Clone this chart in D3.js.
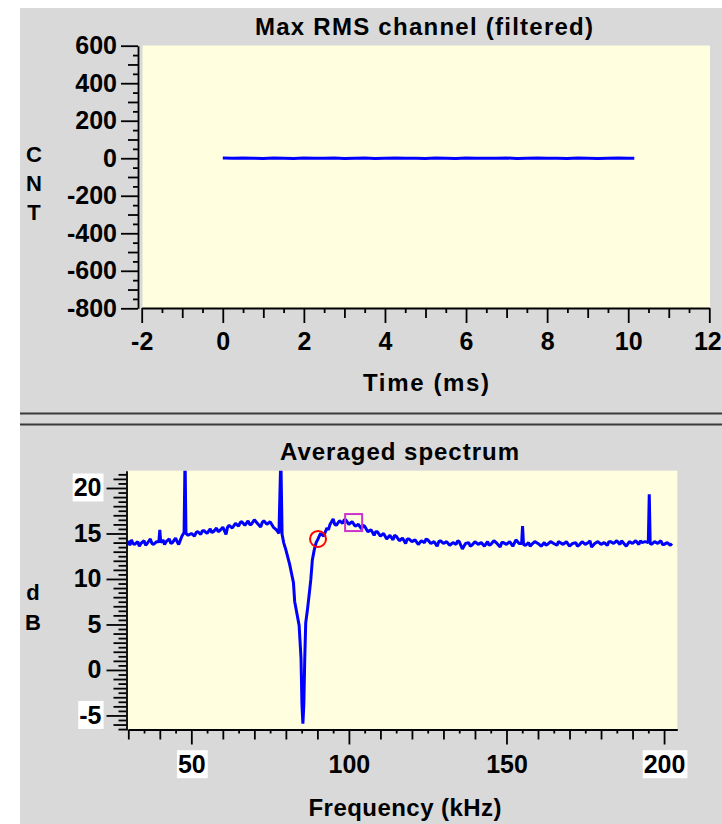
<!DOCTYPE html>
<html>
<head>
<meta charset="utf-8">
<script src="https://cdn.jsdelivr.net/npm/d3@7"></script>
<style>
  html, body { margin: 0; padding: 0; background: #ffffff; }
  svg { display: block; }
  text { font-family: "Liberation Sans", Arial, Helvetica, sans-serif; font-weight: bold; fill: #000; }
</style>
</head>
<body>
<svg id="chart" width="722" height="824"></svg>
<script>
// ---- Max RMS channel (filtered): time trace ----
const timeMs = [0, 0.25, 0.5, 0.75, 1, 1.25, 1.5, 1.75, 2, 2.25, 2.5, 2.75, 3, 3.25, 3.5, 3.75,
  4, 4.25, 4.5, 4.75, 5, 5.25, 5.5, 5.75, 6, 6.25, 6.5, 6.75, 7, 7.25, 7.5, 7.75,
  8, 8.25, 8.5, 8.75, 9, 9.25, 9.5, 9.75, 10, 10.15];
const countValues = [1, 0, 1, 0, -1, 1, 0, -1, 1, 0, 0, 1, -1, 0, 1, -1,
  0, 1, 0, 0, -1, 1, 0, -1, 1, 0, 0, 0, 1, -1, 0, 1,
  0, 0, -1, 1, 0, -1, 0, 1, 0, 0];
const timeTicks = [-2, 0, 2, 4, 6, 8, 10, 12];
const countTicks = [-800, -600, -400, -200, 0, 200, 400, 600];

// ---- Averaged spectrum: [frequency kHz, level dB] ----
const spectrum = [
  [30,14.2],[30.5,13.7],[31,14.3],[31.5,13.9],[32,13.8],[33,14.1],[33.5,13.6],[34,13.9],[35,14.2],[35.5,13.7],[36,13.9],[37,14.4],[37.5,13.9],[38,13.8],
  [39,14.1],[39.7,14.1],[40,15.4],[40.3,14.0],[41,14.3],[41.5,13.8],[42,14.1],[43,14.4],[43.5,13.9],[44,14.0],[45,14.5],[45.5,14.1],[46,13.8],
  [47,14.7],[47.7,15.1],[48.0,23.5],[48.3,15.0],[49,14.8],[50,15.0],[51,14.7],[51.5,15.1],[52,15.2],[53,14.9],[53.5,15.3],[54,15.3],
  [55,15.0],[56,15.5],[56.5,15.1],[57,15.2],[58,15.6],[58.5,15.2],[59,15.3],[60,15.7],[61,14.9],[61.5,15.7],[62,15.9],[63,15.6],[64,16.1],
  [65,15.8],[65.5,16.2],[66,16.3],[67,15.9],[68,16.4],[68.5,16.0],[69,16.0],[70,16.5],[71,16.1],[72,15.7],[72.5,16.2],[73,16.4],[74,16.0],
  [75,16.3],[76,15.7],[77,15.4],[77.8,15.0],[78.4,23.5],[78.8,14.9],[79.3,14.0],[80,13.2],[80.6,12.4],[81.2,11.6],
  [81.8,10.6],[82.4,9.6],[82.8,7.5],[83.5,6.2],[84.2,4.9],[84.8,1.3],[85.1,-3.8],[85.4,-5.9],[85.7,-3.8],[86.0,1.4],
  [86.3,5.2],[86.8,6.5],[87.3,8.0],[87.9,9.9],[88.4,12.1],[89.0,13.2],[89.6,14.0],[90.2,14.4],[91,15.0],[92,14.7],
  [93,15.6],[93.5,15.4],[94,16.0],[95,16.6],[95.5,16.0],[96,15.9],[97,16.4],[98,16.1],[98.5,16.5],[99,16.5],[100,16.0],[101,16.3],[102,15.8],
  [103,16.0],[104,15.5],[104.5,15.9],[105,15.8],[106,15.2],[107,15.4],[108,14.8],[108.5,15.2],[109,15.2],[110,14.7],[111,15.0],[112,14.4],
  [113,14.8],[114,14.3],[114.5,14.8],[115,14.7],[116,14.2],[117,14.5],[118,13.9],[118.5,14.4],[119,14.4],[120,14.1],[121,14.3],[122,13.8],
  [123,14.2],[124,14.0],[124.5,14.4],[125,14.3],[126,13.9],[127,14.1],[128,13.6],[128.5,14.1],[129,14.2],[130,13.9],[131,14.1],[132,13.7],
  [133,14.0],[134,13.8],[134.5,14.2],[135,14.1],[136,13.3],[137,13.9],[138,14.0],[138.5,13.6],[139,13.7],[140,14.1],[141,13.8],[142,14.0],
  [143,13.6],[144,14.1],[144.5,13.7],[145,13.8],[146,14.2],[147,13.9],[148,13.5],[148.5,14.0],[149,14.0],[150,13.8],[151,14.1],[152,13.6],
  [153,14.3],[154,13.9],[154.8,13.9],[155.1,15.8],[155.4,13.8],[156,13.7],[157,14.0],[157.5,13.6],[158,13.8],[159,14.1],[160,13.9],
  [161,13.6],[162,14.0],[162.5,13.7],[163,13.8],[164,14.1],[165,13.9],[166,13.7],[166.5,14.1],[167,14.0],[168,13.8],[169,14.1],[170,13.6],
  [171,13.9],[172,14.0],[172.5,13.6],[173,13.7],[174,14.1],[175,13.8],[176,14.0],[176.5,14.2],[177,13.5],[178,13.9],[179,14.1],[180,13.8],
  [181,14.0],[182,13.7],[182.5,14.1],[183,14.1],[184,13.9],[185,14.2],[186,13.8],[186.5,14.2],[187,14.0],[188,13.6],[189,14.1],[190,13.9],
  [191,14.2],[192,13.8],[192.5,14.2],[193,14.0],[194,14.1],[195.0,14.0],[195.3,19.3],[195.6,13.9],[196,13.8],[197,14.1],[198,13.9],
  [199,14.2],[199.5,13.8],[200,13.8],[201,14.0],[202,13.7],[202.5,13.9]
];
const freqTicks = [50, 100, 150, 200];
const dbTicks = [-5, 0, 5, 10, 15, 20];
const highlightedFreqLabels = [50, 200];
const highlightedDbLabels = [-5, 20];
// cursor markers on the spectrum
const circleMarker = { kHz: 90.2, db: 14.4 };
const squareMarker = { kHz: 101.5, db: 16.2 };

const svg = d3.select("#chart");
const fmt = d => String(d);

// window background and panel separator
svg.append("rect").attr("x", 20).attr("y", 8).attr("width", 702).attr("height", 816).attr("fill", "#d9d9d9");
[413.5, 424.5].forEach(y => {
  svg.append("line").attr("x1", 20).attr("x2", 722).attr("y1", y).attr("y2", y)
    .attr("stroke", "#3a3a3a").attr("stroke-width", 2);
});

// draws one axis as layered tick sets: labelled majors, then unlabelled minors
function layeredAxis(g, make, scale, layers, padding) {
  layers.forEach((layer, i) => {
    const ax = make(scale).tickValues(layer.values).tickSize(layer.size).tickSizeOuter(0)
      .tickPadding(padding);
    ax.tickFormat(i === 0 ? fmt : () => "");
    const sub = g.append("g").call(ax);
    if (i > 0) sub.select(".domain").remove();
    sub.selectAll("line, path").attr("stroke", "#000").attr("stroke-width", 1.8);
    sub.selectAll("text").style("font-size", "25px").attr("fill", "#000");
  });
}

function minorValues(domain, step, skip) {
  const lo = Math.ceil(domain[0] / step - 1e-9), hi = Math.floor(domain[1] / step + 1e-9);
  const out = [];
  for (let k = lo; k <= hi; k++) {
    const v = +(k * step).toFixed(6);
    if (!skip.some(s => Math.abs(v / s - Math.round(v / s)) < 1e-6)) out.push(v);
  }
  return out;
}

// ================= top panel =================
const tx = d3.scaleLinear().domain([-2, 12]).range([141.7, 709.3]);
const ty = d3.scaleLinear().domain([-800, 600]).range([308.3, 45.7]);

svg.append("rect").attr("x", 142.5).attr("y", 45.5).attr("width", 567.5).attr("height", 263)
  .attr("fill", "#ffffe0");

svg.append("clipPath").attr("id", "clipTop").append("rect")
  .attr("x", 142.5).attr("y", 45.5).attr("width", 567.5).attr("height", 263);

const topLine = d3.line().x((d, i) => tx(timeMs[i])).y(d => ty(d));
svg.append("path").datum(countValues)
  .attr("clip-path", "url(#clipTop)")
  .attr("d", topLine)
  .attr("fill", "none").attr("stroke", "#0000ff").attr("stroke-width", 3);

const gTopY = svg.append("g").attr("transform", "translate(138,0)");
layeredAxis(gTopY, d3.axisLeft, ty, [
  { values: countTicks, size: 17 },
  { values: minorValues(ty.domain(), 100, [200]), size: 10 },
  { values: minorValues(ty.domain(), 50, [100]), size: 5 }
], 4);

const gTopX = svg.append("g").attr("transform", "translate(0,308)");
layeredAxis(gTopX, d3.axisBottom, tx, [
  { values: timeTicks, size: 15 },
  { values: minorValues(tx.domain(), 1, [2]), size: 10 },
  { values: minorValues(tx.domain(), 0.5, [1]), size: 5 }
], 9);
// the last time label sits against the window edge
gTopX.selectAll(".tick").filter(d => d === 12).select("text").attr("dx", -2);

svg.append("text").attr("x", 424).attr("y", 35).attr("text-anchor", "middle")
  .attr("textLength", 338).attr("lengthAdjust", "spacing")
  .style("font-size", "24px").text("Max RMS channel (filtered)");
svg.append("text").attr("x", 426).attr("y", 391).attr("text-anchor", "middle")
  .attr("textLength", 126).attr("lengthAdjust", "spacing")
  .style("font-size", "24px").text("Time (ms)");
["C", "N", "T"].forEach((ch, i) => {
  svg.append("text").attr("x", 34).attr("y", 162 + i * 29).attr("text-anchor", "middle")
    .style("font-size", "22px").text(ch);
});

// ================= bottom panel =================
const fx = d3.scaleLinear().domain([30, 204.2]).range([128.3, 677.3]);
const fy = d3.scaleLinear().domain([-6.6, 21.9]).range([730, 470.7]);

svg.append("rect").attr("x", 128).attr("y", 470.7).attr("width", 549.3).attr("height", 259.3)
  .attr("fill", "#ffffe0");

svg.append("clipPath").attr("id", "clipBottom").append("rect")
  .attr("x", 128).attr("y", 470.7).attr("width", 549.3).attr("height", 259.3);

const specLine = d3.line().x(d => fx(d[0])).y(d => fy(d[1]));
svg.append("path").datum(spectrum)
  .attr("clip-path", "url(#clipBottom)")
  .attr("d", specLine)
  .attr("fill", "none").attr("stroke", "#0000ff").attr("stroke-width", 3)
  .attr("stroke-linejoin", "bevel");

svg.append("circle")
  .attr("cx", fx(circleMarker.kHz)).attr("cy", fy(circleMarker.db)).attr("r", 8)
  .attr("fill", "none").attr("stroke", "#ff0000").attr("stroke-width", 2);
svg.append("rect")
  .attr("x", fx(squareMarker.kHz) - 8.5).attr("y", fy(squareMarker.db) - 8.5)
  .attr("width", 17).attr("height", 17)
  .attr("fill", "none").attr("stroke", "#cc33cc").attr("stroke-width", 2);

const gBotY = svg.append("g").attr("transform", "translate(126.5,0)");
layeredAxis(gBotY, d3.axisLeft, fy, [
  { values: dbTicks, size: 20 },
  { values: minorValues(fy.domain(), 1, [5]), size: 13 },
  { values: minorValues(fy.domain(), 0.5, [1]), size: 8 }
], 5);

const gBotX = svg.append("g").attr("transform", "translate(0,729.5)");
layeredAxis(gBotX, d3.axisBottom, fx, [
  { values: freqTicks, size: 15 },
  { values: minorValues(fx.domain(), 10, [50]), size: 10 },
  { values: minorValues(fx.domain(), 5, [10]), size: 4 }
], 11);

// white backing behind the highlighted tick labels
function backLabels(g, values) {
  g.selectAll(".tick").filter(d => values.includes(d)).each(function () {
    const t = d3.select(this).select("text");
    if (t.empty() || t.text() === "") return;
    const bb = t.node().getBBox();
    d3.select(this).insert("rect", "text")
      .attr("x", bb.x - 1).attr("y", bb.y).attr("width", bb.width + 3).attr("height", bb.height)
      .attr("fill", "#ffffff");
  });
}
backLabels(gBotY, highlightedDbLabels);
backLabels(gBotX, highlightedFreqLabels);

svg.append("text").attr("x", 399.5).attr("y", 460).attr("text-anchor", "middle")
  .attr("textLength", 239).attr("lengthAdjust", "spacing")
  .style("font-size", "24px").text("Averaged spectrum");
svg.append("text").attr("x", 405).attr("y", 816).attr("text-anchor", "middle")
  .attr("textLength", 193).attr("lengthAdjust", "spacing")
  .style("font-size", "24px").text("Frequency (kHz)");
["d", "B"].forEach((ch, i) => {
  svg.append("text").attr("x", 33).attr("y", 600 + i * 30).attr("text-anchor", "middle")
    .style("font-size", "22px").text(ch);
});
</script>
</body>
</html>
